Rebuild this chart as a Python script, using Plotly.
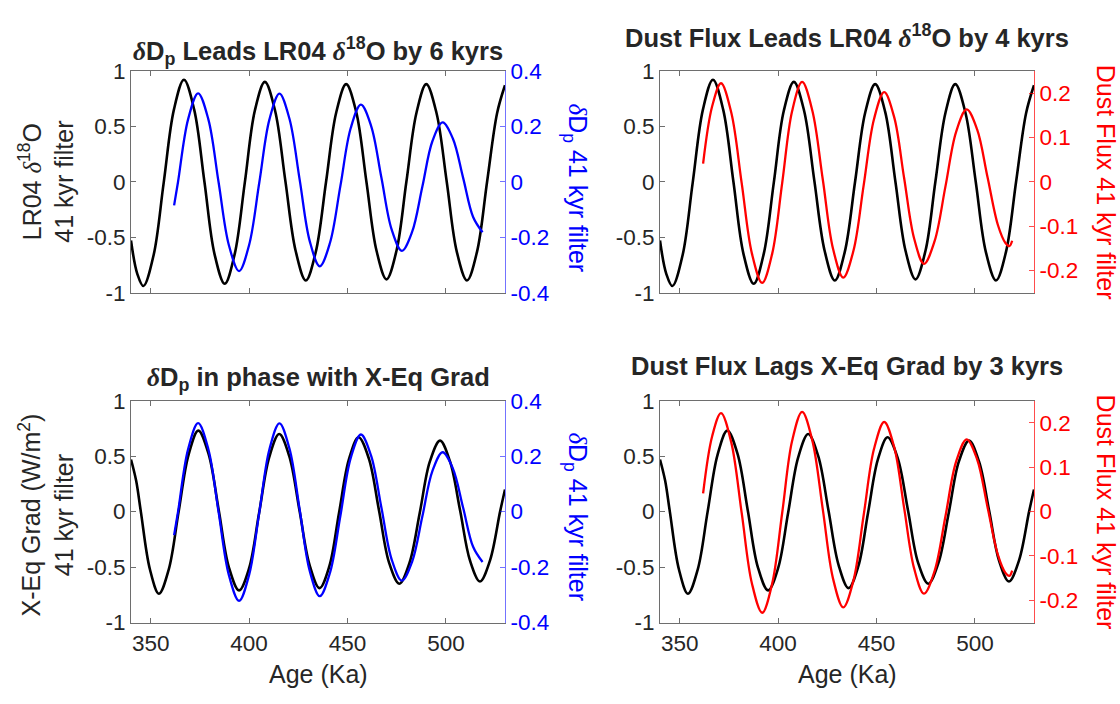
import plotly.graph_objects as go

# ---------------- data ----------------
# LR04 d18O, 41 kyr filter (left axis, panels 1 & 2)
age_lr04 = [340.0, 343.2, 346.3, 351.5, 356.6, 361.8, 366.9, 372.1, 377.3, 382.4, 387.6,
            392.7, 397.8, 402.9, 408.0, 413.2, 418.4, 423.6, 428.8, 433.9, 439.1, 444.2,
            449.3, 454.4, 459.6, 464.7, 469.8, 474.9, 479.9, 485.0, 490.0, 495.2, 500.4,
            505.5, 510.7, 515.8, 520.9, 526.0, 530.0]
lr04_41k = [-0.53, -0.83, -0.94, -0.66, -0.01, 0.65, 0.92, 0.65, 0.00, -0.65, -0.92,
            -0.65, -0.01, 0.64, 0.90, 0.64, 0.01, -0.62, -0.89, -0.63, 0.00, 0.62,
            0.88, 0.63, 0.00, -0.62, -0.88, -0.62, 0.00, 0.62, 0.88, 0.62, 0.00,
            -0.63, -0.89, -0.63, 0.00, 0.62, 0.87]

# Cross-equatorial gradient (W/m2), 41 kyr filter (left axis, panels 3 & 4)
age_xeq = [340.0, 342.6, 345.0, 349.6, 354.2, 359.2, 364.2, 369.2, 374.2, 379.4, 384.6,
           389.7, 394.9, 400.0, 405.1, 410.2, 415.3, 420.4, 425.6, 430.7, 435.8, 440.8,
           445.7, 450.7, 455.6, 460.8, 466.0, 471.1, 476.3, 481.5, 486.7, 491.8, 497.0,
           502.1, 507.2, 512.2, 517.3, 522.4, 527.5, 530.0]
xeq_41k = [0.47, 0.28, 0.00, -0.52, -0.74, -0.52, 0.00, 0.51, 0.73, 0.52, 0.01,
           -0.50, -0.71, -0.51, -0.01, 0.49, 0.70, 0.50, 0.01, -0.48, -0.69, -0.49,
           -0.01, 0.47, 0.67, 0.48, 0.01, -0.46, -0.65, -0.46, -0.01, 0.45, 0.64,
           0.45, 0.01, -0.44, -0.63, -0.44, 0.00, 0.20]

# dDp, 41 kyr filter (right axis, panels 1 & 3)
age_ddp = [361.9, 363.9, 369.0, 374.1, 379.3, 384.5, 389.7, 394.9, 400.0, 405.2, 410.3,
           415.4, 420.5, 425.7, 430.8, 435.9, 441.1, 446.4, 451.6, 456.8, 462.0, 467.2,
           472.4, 477.6, 482.8, 488.0, 493.1, 498.3, 503.5, 508.7, 513.8, 518.6]
ddp_41k = [-0.085, 0.000, 0.225, 0.319, 0.225, -0.002, -0.228, -0.322, -0.228, -0.002, 0.224,
           0.318, 0.227, 0.007, -0.214, -0.305, -0.220, -0.014, 0.193, 0.278, 0.201, 0.015,
           -0.172, -0.249, -0.181, -0.018, 0.146, 0.214, 0.156, 0.015, -0.127, -0.182]

# Dust flux, 41 kyr filter (right axis, panels 2 & 4)
age_dust = [361.9, 366.5, 371.0, 376.2, 381.5, 386.7, 391.9, 397.0, 402.1, 407.1, 412.2,
            417.4, 422.7, 427.9, 433.1, 438.3, 443.5, 448.7, 453.9, 459.0, 464.0, 469.1,
            474.1, 479.5, 485.0, 490.4, 495.8, 501.1, 506.4, 511.7, 515.5, 517.5, 518.9]
dust_41k = [0.041, 0.170, 0.222, 0.156, -0.003, -0.162, -0.228, -0.162, -0.002, 0.159, 0.225,
            0.160, 0.005, -0.151, -0.216, -0.155, -0.007, 0.141, 0.202, 0.145, 0.009, -0.128,
            -0.185, -0.134, -0.011, 0.112, 0.163, 0.118, 0.010, -0.098, -0.138, -0.145, -0.133]

x_ticks = [350, 400, 450, 500]
left_ticks = [-1, -0.5, 0, 0.5, 1]
left_ticktext = ["-1", "-0.5", "0", "0.5", "1"]
ddp_ticks = [-0.4, -0.2, 0, 0.2, 0.4]
ddp_ticktext = ["-0.4", "-0.2", "0", "0.2", "0.4"]
dust_ticks = [-0.2, -0.1, 0, 0.1, 0.2]
dust_ticktext = ["-0.2", "-0.1", "0", "0.1", "0.2"]

# ---------------- styling ----------------
W, H = 1120, 704
FONT = "Liberation Sans, Arial, Helvetica, sans-serif"
TXT = "#262626"
AX = "#6e6e6e"
BLUE = "#0000ff"
RED = "#ff0000"
FS = 22.5       # tick labels
FL = 25         # axis labels
FT = 25.5       # titles
D = '<span style="font-family:Liberation Serif"><i>δ</i></span>'

colL = [131 / W, 505 / W]
colR = [660 / W, 1034 / W]
rowT = [(H - 291) / H, (H - 61) / H]
rowB = [(H - 633) / H, (H - 403) / H]

fig = go.Figure()


def line(x, y, xa, ya, color, width):
    fig.add_trace(go.Scatter(x=x, y=y, xaxis=xa, yaxis=ya, mode="lines",
                             line=dict(color=color, width=width, shape="spline", smoothing=1),
                             showlegend=False, hoverinfo="skip"))


line(age_lr04, lr04_41k, "x", "y", "black", 2.6)
line(age_ddp, ddp_41k, "x", "y2", BLUE, 2.3)
line(age_lr04, lr04_41k, "x2", "y3", "black", 2.6)
line(age_dust, dust_41k, "x2", "y4", RED, 2.3)
line(age_xeq, xeq_41k, "x3", "y5", "black", 2.6)
line(age_ddp, ddp_41k, "x3", "y6", BLUE, 2.3)
line(age_xeq, xeq_41k, "x4", "y7", "black", 2.6)
line(age_dust, dust_41k, "x4", "y8", RED, 2.3)


def xaxis(domain, anchor, labels):
    return dict(domain=domain, anchor=anchor, range=[340, 530], tickvals=x_ticks,
                showticklabels=labels, ticks="inside", ticklen=5, tickcolor=AX,
                showline=True, linecolor=AX, linewidth=1, mirror="ticks",
                showgrid=False, zeroline=False,
                tickfont=dict(family=FONT, size=FS, color=TXT))


def yleft(domain, anchor):
    return dict(domain=domain, anchor=anchor, range=[-1, 1], tickvals=left_ticks,
                ticktext=left_ticktext, ticks="inside", ticklen=5, tickcolor=AX,
                showline=True, linecolor=AX, linewidth=1, showgrid=False, zeroline=False,
                tickfont=dict(family=FONT, size=FS, color=TXT))


def yright(over, anchor, rng, vals, text, color, lc):
    return dict(overlaying=over, anchor=anchor, side="right", range=rng, tickvals=vals,
                ticktext=text, ticks="inside", ticklen=5, tickcolor=lc,
                showline=True, linecolor=lc, linewidth=1, showgrid=False, zeroline=False,
                tickfont=dict(family=FONT, size=FS, color=color))


fig.update_layout(
    width=W, height=H, margin=dict(l=0, r=0, t=0, b=0),
    paper_bgcolor="white", plot_bgcolor="white",
    xaxis=xaxis(colL, "y", False),
    xaxis2=xaxis(colR, "y3", False),
    xaxis3=xaxis(colL, "y5", True),
    xaxis4=xaxis(colR, "y7", True),
    yaxis=yleft(rowT, "x"),
    yaxis2=yright("y", "x", [-0.4, 0.4], ddp_ticks, ddp_ticktext, BLUE, "rgba(0,0,255,0.55)"),
    yaxis3=yleft(rowT, "x2"),
    yaxis4=yright("y3", "x2", [-0.25, 0.25], dust_ticks, dust_ticktext, RED, "rgba(255,0,0,0.7)"),
    yaxis5=yleft(rowB, "x3"),
    yaxis6=yright("y5", "x3", [-0.4, 0.4], ddp_ticks, ddp_ticktext, BLUE, "rgba(0,0,255,0.55)"),
    yaxis7=yleft(rowB, "x4"),
    yaxis8=yright("y7", "x4", [-0.25, 0.25], dust_ticks, dust_ticktext, RED, "rgba(255,0,0,0.7)"),
)


def ann(text, px, py, angle=0, color=TXT, size=FL):
    fig.add_annotation(text=text, x=px / W, y=1 - py / H, xref="paper", yref="paper",
                       xanchor="center", yanchor="middle", showarrow=False, textangle=angle,
                       font=dict(family=FONT, size=size, color=color))


# titles
ann(f"<b>{D}D<sub>p</sub> Leads LR04 {D}<sup>18</sup>O by 6 kyrs</b>", 318, 40, size=FT)
ann(f"<b>Dust Flux Leads LR04 {D}<sup>18</sup>O by 4 kyrs</b>", 847, 25, size=FT)
ann(f"<b>{D}D<sub>p</sub> in phase with X-Eq Grad</b>", 318, 381, size=FT)
ann("<b>Dust Flux Lags X-Eq Grad by 3 kyrs</b>", 847, 367, size=FT)

# left axis labels
ann(f"LR04 {D}<sup>18</sup>O<br>41 kyr filter", 46, 176, -90)
ann("X-Eq Grad (W/m<sup>2</sup>)<br>41 kyr filter", 46, 522, -90)

# right axis labels
ann(f"{D}D<sub>p</sub> 41 kyr filter", 576, 182, 90, BLUE)
ann(f"{D}D<sub>p</sub> 41 kyr filter", 576, 523, 90, BLUE)
ann("Dust Flux 41 kyr filter", 1106, 176, 90, RED)
ann("Dust Flux 41 kyr filter", 1106, 518, 90, RED)

# x axis labels
ann("Age (Ka)", 318, 686)
ann("Age (Ka)", 847, 686)

fig.write_html("out.html")
